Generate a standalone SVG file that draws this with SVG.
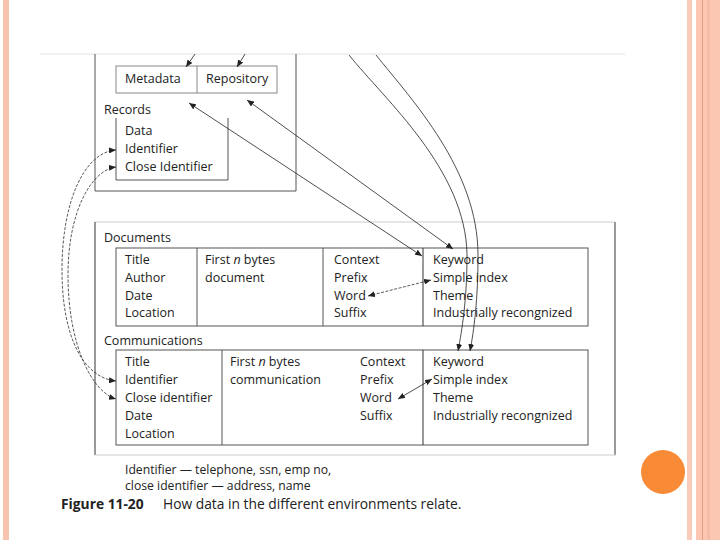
<svg xmlns="http://www.w3.org/2000/svg" width="720" height="540" viewBox="0 0 720 540">
<defs>
<style>
.t{font-family:"Open Sans","DejaVu Sans",sans-serif;font-size:12.5px;fill:#222}
.ft{font-family:"Open Sans","DejaVu Sans",sans-serif;font-size:12.2px;fill:#222}
.cap{font-family:"Open Sans","DejaVu Sans",sans-serif;font-size:13.8px;fill:#222}
.box{fill:none;stroke:#555;stroke-width:1}
.ln{fill:none;stroke:#222;stroke-width:0.8}
.ds{fill:none;stroke:#222;stroke-width:0.75;stroke-dasharray:3 1.5}
</style>
<marker id="ah" viewBox="0 0 7 6" refX="7" refY="3" markerWidth="7" markerHeight="6" markerUnits="userSpaceOnUse" orient="auto-start-reverse">
<path d="M0,0 L7,3 L0,6 z" fill="#222"/>
</marker>
</defs>
<rect width="720" height="540" fill="#fff"/>
<g id="page-decor">
<rect x="3" y="0" width="6" height="540" fill="#f7c4b0"/>
<rect x="687" y="0" width="5" height="540" fill="#f9cbb9"/>
<rect x="696" y="0" width="24" height="540" fill="#fbc7b3"/>
<rect x="702" y="0" width="1" height="540" fill="#e9a07f"/>
<rect x="707" y="0" width="3" height="540" fill="#f5bca6"/>
<circle cx="663" cy="472" r="22" fill="#f98a36"/>
<line x1="40" y1="54" x2="625" y2="54" stroke="#e2e2e2" stroke-width="1"/>
</g>
<g id="records">
<path d="M95,54 V191 H296 V54" class="box"/>
<text x="104" y="114" class="t">Records</text>
<path d="M116,118 V180 H228 V118" class="box"/>
<text x="125" y="135" class="t">Data</text>
<text x="125" y="153" class="t">Identifier</text>
<text x="125" y="171" class="t">Close Identifier</text>
</g>
<g id="metadata-repository">
<rect x="116" y="66" width="161" height="27" fill="none" stroke="#888" stroke-width="1"/>
<line x1="197" y1="66" x2="197" y2="93" stroke="#888" stroke-width="1"/>
<text x="125" y="83" class="t">Metadata</text>
<text x="206" y="83" class="t">Repository</text>
</g>
<g id="environment-frame">
<line x1="95" y1="222" x2="615" y2="222" stroke="#ccc"/>
<line x1="95" y1="222" x2="95" y2="455" stroke="#333"/>
<line x1="615" y1="222" x2="615" y2="455" stroke="#999" stroke-width="2"/>
<line x1="95" y1="455" x2="616" y2="455" stroke="#ccc"/>
</g>
<g id="documents">
<text x="104" y="242" class="t">Documents</text>
<rect x="116" y="248" width="472" height="78" class="box"/>
<line x1="197" y1="248" x2="197" y2="326" stroke="#555"/>
<line x1="323" y1="248" x2="323" y2="326" stroke="#555"/>
<line x1="423" y1="248" x2="423" y2="326" stroke="#333"/>
<text x="125" y="264" class="t">Title</text>
<text x="125" y="282" class="t">Author</text>
<text x="125" y="300" class="t">Date</text>
<text x="125" y="317" class="t">Location</text>
<text x="205" y="264" class="t">First <tspan font-style="italic">n</tspan> bytes</text>
<text x="205" y="282" class="t">document</text>
<text x="334" y="264" class="t">Context</text>
<text x="334" y="282" class="t">Prefix</text>
<text x="334" y="300" class="t">Word</text>
<text x="334" y="317" class="t">Suffix</text>
<text x="433" y="264" class="t">Keyword</text>
<text x="433" y="282" class="t">Simple index</text>
<text x="433" y="300" class="t">Theme</text>
<text x="433" y="317" class="t">Industrially recongnized</text>
</g>
<g id="communications">
<text x="104" y="345" class="t">Communications</text>
<rect x="116" y="350" width="472" height="95" class="box"/>
<line x1="222" y1="350" x2="222" y2="445" stroke="#555"/>
<line x1="423" y1="350" x2="423" y2="445" stroke="#333"/>
<text x="125" y="366" class="t">Title</text>
<text x="125" y="384" class="t">Identifier</text>
<text x="125" y="402" class="t">Close identifier</text>
<text x="125" y="420" class="t">Date</text>
<text x="125" y="438" class="t">Location</text>
<text x="230" y="366" class="t">First <tspan font-style="italic">n</tspan> bytes</text>
<text x="230" y="384" class="t">communication</text>
<text x="360" y="366" class="t">Context</text>
<text x="360" y="384" class="t">Prefix</text>
<text x="360" y="402" class="t">Word</text>
<text x="360" y="420" class="t">Suffix</text>
<text x="433" y="366" class="t">Keyword</text>
<text x="433" y="384" class="t">Simple index</text>
<text x="433" y="402" class="t">Theme</text>
<text x="433" y="420" class="t">Industrially recongnized</text>
</g>
<g id="connectors">
<line x1="195" y1="54" x2="186" y2="67" class="ln" marker-end="url(#ah)"/>
<line x1="245" y1="54" x2="237" y2="67" class="ln" marker-end="url(#ah)"/>
<line x1="189" y1="103" x2="422" y2="256" class="ln" marker-start="url(#ah)" marker-end="url(#ah)"/>
<line x1="247" y1="100" x2="453" y2="249" class="ln" marker-start="url(#ah)" marker-end="url(#ah)"/>
<line x1="368" y1="296" x2="431" y2="280" class="ds" marker-start="url(#ah)" marker-end="url(#ah)"/>
<line x1="398" y1="399" x2="432" y2="379" class="ln" marker-start="url(#ah)" marker-end="url(#ah)"/>
<path d="M349,55 C385,100 466,170 467,255 C467,300 462,330 458,351" class="ln" stroke-width="0.7" marker-end="url(#ah)"/>
<path d="M376,55 C412,100 478,170 478,255 C478,300 474,330 470,351" class="ln" stroke-width="0.7" marker-end="url(#ah)"/>
<path d="M116,150 C85,152 62,200 62,270 C62,340 85,378 116,381" class="ds" marker-start="url(#ah)" marker-end="url(#ah)"/>
<path d="M116,167 C92,170 68,210 68,275 C68,345 92,392 116,399" class="ds" marker-start="url(#ah)" marker-end="url(#ah)"/>
</g>
<g id="caption">
<text x="125" y="474" class="ft">Identifier — telephone, ssn, emp no,</text>
<text x="125" y="490" class="ft">close identifier — address, name</text>
<text x="61" y="509" class="cap" font-weight="bold" font-size="14.5px">Figure 11-20</text>
<text x="163" y="509" class="cap">How data in the different environments relate.</text>
</g>
</svg>
